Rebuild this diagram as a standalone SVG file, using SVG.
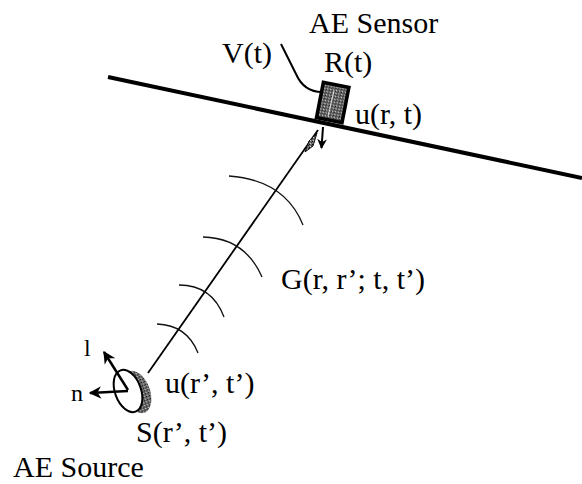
<svg xmlns="http://www.w3.org/2000/svg" width="582" height="484" viewBox="0 0 582 484">
<style>
  .t { font-family: "Liberation Serif", "Times New Roman", serif; font-size: 30px; fill: #000; }
  .s { font-family: "Liberation Serif", "Times New Roman", serif; font-size: 24px; fill: #000; }
  .arc { fill: none; stroke: #111; stroke-width: 1.3; }
  .ray { fill: none; stroke: #000; stroke-width: 1.8; }
</style>
<defs>
  <pattern id="dots" width="3" height="3" patternUnits="userSpaceOnUse">
    <rect width="3" height="3" fill="#6e6e6e"/>
    <rect width="1" height="1" fill="#111"/>
    <rect x="2" y="1" width="1" height="1" fill="#333"/>
    <rect x="1" y="2" width="1" height="1" fill="#ccc"/>
  </pattern>
  <marker id="ah" viewBox="0 0 10 10" refX="9" refY="5" markerWidth="5" markerHeight="5" markerUnits="strokeWidth" orient="auto">
    <path d="M0,0 L10,5 L0,10 L3,5 Z" fill="#000"/>
  </marker>
</defs>

<g id="surface">
  <line x1="108" y1="77" x2="582" y2="178" stroke="#000" stroke-width="4"/>
</g>

<g id="connectors">
  <path class="ray" d="M148,373 L318,130"/>
  <polygon points="305,152 309,141 317,133 313,146" fill="url(#dots)" stroke="#111" stroke-width="1"/>
  <path class="arc" d="M229,176 Q285,180 303,225"/>
  <path class="arc" d="M203,237 Q245,238 262,277"/>
  <path class="arc" d="M179,285 Q212,285 224,317"/>
  <path class="arc" d="M157,324 Q187,325 198,353"/>
  <path d="M281,44 L296,74 Q304,92 322,92" fill="none" stroke="#000" stroke-width="2"/>
  <line x1="323" y1="127" x2="321.5" y2="148" stroke="#000" stroke-width="2" marker-end="url(#ah)"/>
</g>

<g id="sensor">
  <g transform="translate(332.7,102.5) rotate(11)">
    <rect x="-13" y="-18" width="26" height="36" fill="url(#dots)" stroke="#000" stroke-width="3.5"/>
    <line x1="-1" y1="-12" x2="-2" y2="14" stroke="#ddd" stroke-width="1"/>
  </g>
</g>

<g id="source">
  <ellipse cx="137" cy="392" rx="13" ry="22" transform="rotate(-20 137 392)" fill="url(#dots)"/>
  <ellipse cx="128" cy="391" rx="13" ry="22" transform="rotate(-20 128 391)" fill="#fff" stroke="#000" stroke-width="2"/>
  <line x1="128" y1="390" x2="104" y2="352" stroke="#000" stroke-width="2.5" marker-end="url(#ah)"/>
  <line x1="128" y1="391" x2="90" y2="393" stroke="#000" stroke-width="2.5" marker-end="url(#ah)"/>
</g>

<g id="labels">
  <text class="t" x="309" y="33">AE Sensor</text>
  <text class="t" x="222" y="63">V(t)</text>
  <text class="t" x="324" y="72">R(t)</text>
  <text class="t" x="355" y="124">u(r, t)</text>
  <text class="t" x="281" y="289">G(r, r’; t, t’)</text>
  <text class="s" x="84" y="356">l</text>
  <text class="s" x="71" y="401">n</text>
  <text class="t" x="165" y="393">u(r’, t’)</text>
  <text class="t" x="136" y="442">S(r’, t’)</text>
  <text class="t" x="13" y="477">AE Source</text>
</g>
</svg>
